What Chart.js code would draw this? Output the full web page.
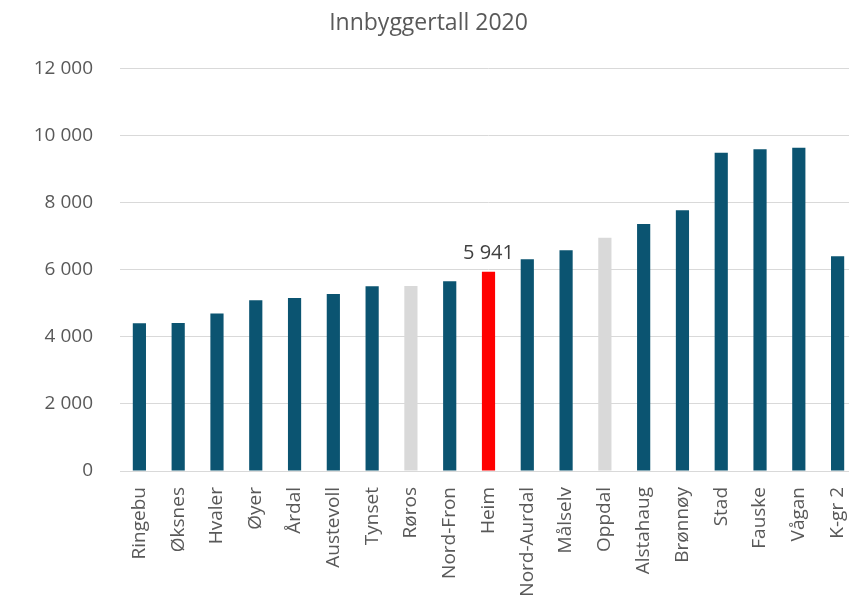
<!DOCTYPE html>
<html>
<head>
<meta charset="utf-8">
<script src="https://cdn.jsdelivr.net/npm/chart.js@4"></script>
<style>
  html, body { margin: 0; padding: 0; background: #fff; overflow: hidden; }
  #wrap { width: 870px; height: 610px; }
</style>
</head>
<body>
<div id="wrap"><canvas id="popChart"></canvas></div>
<script>
// Innbyggertall 2020 per kommune
const kommuner = ['Ringebu', 'Øksnes', 'Hvaler', 'Øyer', 'Årdal', 'Austevoll', 'Tynset', 'Røros', 'Nord-Fron', 'Heim',
  'Nord-Aurdal', 'Målselv', 'Oppdal', 'Alstahaug', 'Brønnøy', 'Stad', 'Fauske', 'Vågan', 'K-gr 2'];
const innbyggere = [4407, 4416, 4696, 5092, 5161, 5280, 5509, 5518, 5658, 5941,
  6313, 6581, 6959, 7365, 7773, 9491, 9598, 9640, 6403];
const yTicks = [0, 2000, 4000, 6000, 8000, 10000, 12000];
const highlighted = 'Heim';
const greyed = ['Røros', 'Oppdal'];

const teal = '#0b5471';
const grey = '#d9d9d9';
const red = '#ff0000';

const barColors = kommuner.map(function(k) {
  if (k === highlighted) return red;
  if (greyed.includes(k)) return grey;
  return teal;
});

function fmt(v) {
  return String(v).replace(/\B(?=(\d{3})+(?!\d))/g, ' ');
}

// label over the highlighted bar
const heimLabel = {
  id: 'heimLabel',
  afterDatasetsDraw(chart) {
    const idx = kommuner.indexOf(highlighted);
    const bar = chart.getDatasetMeta(0).data[idx];
    const ctx = chart.ctx;
    ctx.save();
    ctx.font = '20px "Open Sans"';
    ctx.fillStyle = '#404040';
    ctx.textAlign = 'center';
    ctx.textBaseline = 'bottom';
    ctx.fillText(fmt(innbyggere[idx]), bar.x, bar.y - 8);
    ctx.restore();
  }
};

new Chart(document.getElementById('popChart'), {
  type: 'bar',
  data: {
    labels: kommuner,
    datasets: [{
      data: innbyggere,
      backgroundColor: barColors,
      categoryPercentage: 1,
      barPercentage: 0.34
    }]
  },
  options: {
    responsive: true,
    maintainAspectRatio: false,
    animation: false,
    layout: { padding: { left: 0, right: 13, top: 0, bottom: 0 } },
    plugins: {
      legend: { display: false },
      tooltip: { enabled: false },
      title: {
        display: true,
        text: 'Innbyggertall 2020',
        color: '#595959',
        font: { family: 'Open Sans', size: 23, weight: 'normal' },
        padding: { top: 10, bottom: 31 }
      }
    },
    scales: {
      x: {
        grid: { display: false },
        border: { display: true, color: '#d9d9d9', width: 1 },
        ticks: {
          color: '#595959',
          font: { family: 'Open Sans', size: 19 },
          minRotation: 90,
          maxRotation: 90,
          autoSkip: false,
          padding: 8
        },
        afterFit(scale) { scale.height = 139; }
      },
      y: {
        min: 0,
        max: 12000,
        afterBuildTicks(scale) { scale.ticks = yTicks.map(function(v) { return { value: v }; }); },
        grid: { color: '#d9d9d9', drawTicks: false },
        border: { display: false },
        ticks: {
          color: '#595959',
          font: { family: 'Open Sans', size: 19 },
          padding: 27,
          callback: function(v) { return fmt(v); }
        },
        afterFit(scale) { scale.width = 120; }
      }
    }
  },
  plugins: [heimLabel]
});
</script>
</body>
</html>
